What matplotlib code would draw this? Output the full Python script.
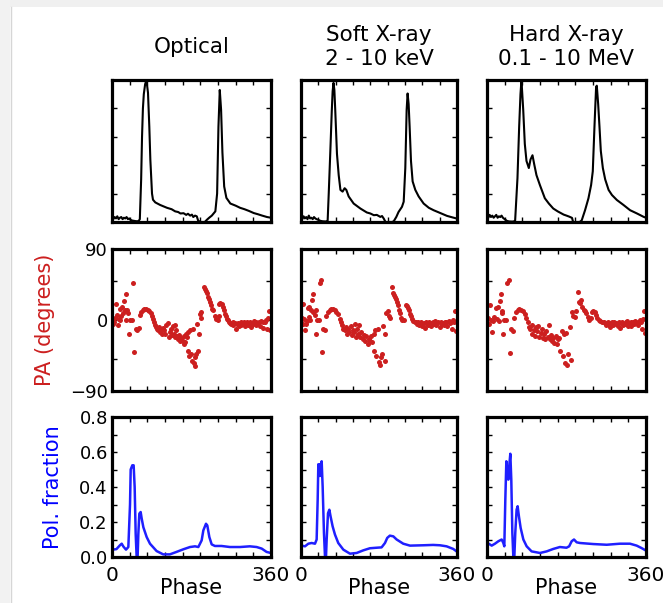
import matplotlib
matplotlib.use('Agg')
import matplotlib.pyplot as plt
from matplotlib.patches import Rectangle
from matplotlib.lines import Line2D

# ---------------- data ----------------
titles = ['Optical', 'Soft X-ray\n2 - 10 keV', 'Hard X-ray\n0.1 - 10 MeV']

# light curves (phase in degrees, normalised flux)
opt_lc_phase = [0, 3, 6, 9, 12, 15, 18, 21, 24, 27, 30, 33, 36, 39, 42, 46, 50, 54, 58, 61,
                63, 66, 68, 70, 72, 75, 78, 81.5, 84.5, 86.8, 90.6, 92.8, 98, 109, 124.5, 135,
                143, 150, 155, 162, 168, 172, 177, 181, 184, 188, 192, 195, 200, 205, 210, 215,
                220, 226, 234, 238, 241, 244, 247, 250, 254, 259, 268, 280, 290, 300, 310,
                321, 330, 340, 351, 360]
opt_lc_flux = [0.03, 0.02, 0.035, 0.025, 0.04, 0.02, 0.03, 0.035, 0.02, 0.03, 0.025, 0.035, 0.02,
               0.025, 0.015, 0.01, 0.008, 0.006, 0.005, 0.01,
               0.02, 0.3, 0.6, 0.8, 0.9, 0.97, 1.0, 0.91, 0.67, 0.44, 0.2, 0.157, 0.138, 0.12,
               0.1, 0.09, 0.075, 0.07, 0.06, 0.062, 0.05, 0.058, 0.045, 0.052, 0.035, 0.045,
               0.04, 0.01, 0.0, 0.0, 0.0, 0.016,
               0.03, 0.045, 0.075, 0.2, 0.67, 0.93, 0.79, 0.49, 0.25, 0.17, 0.13, 0.115,
               0.1, 0.09, 0.078, 0.063, 0.055, 0.045, 0.035, 0.03]

soft_lc_phase = [0, 3, 6, 9, 12, 15, 18, 21, 24, 27, 30, 33, 36, 40, 45, 50, 55, 60, 61.5,
                 64, 67.7, 71, 73, 75, 77, 79, 83, 87, 91, 96, 100.7, 104.6, 110, 121.5, 137,
                 145, 152, 160, 168, 175, 183, 187, 191, 195, 200, 205, 210, 214, 220, 225,
                 233, 237, 240.7, 243.8, 246, 248.4, 250.7, 253.8, 257.6, 263.8, 271.5, 283,
                 295, 306, 320, 337, 350, 360]
soft_lc_flux = [0.03, 0.02, 0.04, 0.025, 0.035, 0.02, 0.045, 0.025, 0.03, 0.02, 0.035, 0.025,
                0.02, 0.015, 0.008, 0.005, 0.004, 0.004, 0.01,
                0.2, 0.5, 0.78, 0.92, 0.98, 0.93, 0.79, 0.48, 0.33, 0.226, 0.214, 0.238, 0.226,
                0.18, 0.13, 0.095, 0.08, 0.067, 0.06, 0.048, 0.05, 0.036, 0.042, 0.024, 0.0,
                0.0, 0.0, 0.0, 0.005, 0.036, 0.07,
                0.107, 0.143, 0.38, 0.79, 0.905, 0.83, 0.67, 0.43, 0.286, 0.226, 0.18, 0.13,
                0.1, 0.083, 0.065, 0.043, 0.032, 0.024]

hard_lc_phase = [0, 3, 6, 9, 12, 15, 18, 21, 24, 27, 30, 33, 36, 40, 45, 50, 55, 60, 63.7,
                 69, 72.8, 75.8, 78, 82, 85.6, 89.4, 94.7, 98.5, 103, 107, 112, 119.8, 131,
                 140, 150, 160, 173.6, 180, 186, 192.5, 195, 200, 205, 210, 214.5, 222,
                 229.7, 235.7, 239.5, 243.3, 247, 248.6, 251.7, 254.7, 257.7, 262.3, 267.6,
                 275.3, 282.9, 294, 309, 324, 339.6, 354.8, 360]
hard_lc_flux = [0.04, 0.03, 0.05, 0.035, 0.045, 0.03, 0.04, 0.05, 0.03, 0.04, 0.035, 0.045,
                0.03, 0.02, 0.008, 0.004, 0.003, 0.003, 0.01,
                0.31, 0.67, 0.9, 1.0, 0.79, 0.55, 0.43, 0.38, 0.44, 0.47, 0.405, 0.33, 0.26,
                0.167, 0.13, 0.095, 0.075, 0.052, 0.045, 0.038, 0.029, 0.0, 0.0, 0.0, 0.0,
                0.012, 0.083,
                0.167, 0.26, 0.357, 0.67, 0.95, 0.96, 0.83, 0.67, 0.5, 0.38, 0.3,
                0.226, 0.19, 0.155, 0.12, 0.083, 0.06, 0.036, 0.03]

# polarisation angle scatter (phase in degrees, PA in degrees)
flat_phase = [265, 268, 270, 273, 275, 278, 280, 283, 286, 288, 291, 293, 296, 299, 301, 304,
              306, 309, 312, 314, 317, 320, 322, 325, 327, 330, 333, 335, 338, 341, 343, 346,
              349, 351, 354, 356, 358]

opt_pa_phase = [1.6, 3.1, 5.5, 7.8, 9.3, 10.9, 13.2, 15.6, 17.1, 18.7, 21, 23.4, 24.9, 26.5,
                28.8, 31.2, 32.7, 34.3, 36.6, 39, 40.5, 44.4, 48.3, 50.6, 54.5, 57.6, 60, 62.3,
                65.4, 69.3, 73.2, 77.1, 81, 84.1, 87.2, 90.4, 92.7, 95, 97.4, 100.5, 102.8,
                104.4, 106.7, 109, 110.6, 113, 115.3, 118.4, 120.7, 123, 126.2, 128.5, 130.9,
                134, 135.5, 137.9, 140.2, 141.8, 143.3, 145.7, 148, 150.3, 152.7, 154.2, 157.3,
                159.7, 162, 163.6, 165.1, 167.5, 169.8, 171.4, 172.9, 175.3, 176.8, 179.2,
                180.7, 183, 184.6, 187, 188.5, 190.9, 192.4, 194.8, 196.3, 198.6, 201, 202.5,
                208, 210.3, 213.4, 215.8, 218.1, 219.7, 222, 224.4, 227.5, 229.8, 232.9, 235.3,
                239.2, 241.5, 243, 245.4, 248.5, 250.8, 253.2, 255.5, 257.8, 260.2,
                262.5] + flat_phase
opt_pa = [0.4, -4.7, -2.6, 3.0, 20, 6, -6.8, 1.7, 14.5, -0.4, 4.7, 16.6, 9, 24.3,
          12.4, 32.8, -0.4, 12.4, 9, -17.5, 0.4, -0.4, 47.3, -41, -11, -13.2, -9.8, 6,
          10.2, 13.2, 14, 14, 13.2, 11.5, 9, 5.5, 1.7, -2.6, -6.8, -9, -11,
          -13.2, -9, -15.4, -12.4, -17.5, -9.8, -13.2, -18.3, -6.8, -3.8, -21.8, -15.4,
          -11, -19.6, -8.1, -17.5, -21.8, -6.8, -13.2, -20.9, -23.9, -19.6, -26, -22.6,
          -26, -30.3, -20.9, -28.1, -17.5, -21.8, -38.8, -15.4, -45.2, -13.2, -43.1,
          -51.6, -11, -55, -58.9, -47.3, -43.1, -5.5, -39.7, -17.5, 8.1, 10.2, 3,
          42.2, 38.8, 36.7, 33.7, 29.4, 26, 22.6, 18.8, 14.5, 12.4, 4.7, 1.7,
          -0.4, 4.7, 20.9, 21.8, 20, 16.6, 12.4, 8.1, 4.7, 1.7,
          -0.4] + [-3, -4, -5, -3, -6, -4, -11, -5, -4, -7, -3, -6, -5, -2, -8, -4, -3, -6, -2,
                   -9, -4, -5, -1, -6, -3, -4, -2, -7, -1, -3, -10, -2, 0, -12, 2, 11, -13]

soft_pa_phase = [2.3, 3.9, 5.5, 7.8, 10.1, 11.7, 14, 15.6, 17.9, 19.5, 21.8, 24.1, 25.7, 27.3,
                 28.8, 31.2, 33.5, 35, 37.4, 40.5, 44.4, 46.7, 49.1, 50.6, 54.5, 58.4, 62.3,
                 66.2, 70.1, 74, 77.9, 81.8, 85.7, 89.6, 91.9, 94.3, 97.4, 101.3, 103.6, 106.7,
                 109, 111.4, 114.5, 116.9, 119.2, 122.3, 124.6, 127, 128.5, 132.4, 134.8, 136.3,
                 138.7, 142.6, 145.7, 148, 150.3, 153.5, 155.8, 158.1, 161.3, 163.6, 167.5, 169,
                 171.4, 173.7, 176.8, 179.2, 181.5, 184.6, 187, 189.3, 193.2, 194.8, 197.1,
                 200.2, 203.3, 206.4, 210.3, 212.7, 214.2, 216.6, 218.9, 220.5, 223.6, 225.9,
                 228.2, 231.3, 233.7, 237.6, 241.5, 243.8, 246.9, 249.3, 251.6, 254.7, 257.1,
                 259.4, 262.5] + flat_phase
soft_pa = [3, -4.7, 20, 1.7, -13.2, -4.7, -1.3, 15.8, 3.8, 16.6, -0.4, 12.4, 25.2, 10.2,
           32.8, 6, 12.4, -17.5, -0.4, -0.4, 46.5, 50.8, -41, -11, -13.2, 4.7, 10.2,
           13.2, 14, 13.6, 12.4, 10.2, 8.1, 1.7, -2.6, -6.8, -11, -13.2, -9, -17.5,
           -11, -15.4, -8.1, -19.6, -13.2, -15.4, -4.7, -21.8, -11, -17.5, -6.8, -21.8,
           -15.4, -23.9, -19.6, -26, -20.9, -30.3, -23.9, -26, -20.9, -28.1, -17.5, -38.8,
           -13.2, -45.2, -11, -53.7, -56.7, -47.3, -43.1, -7.7, -51.6, -18.3, 9,
           11.5, 4.7, 3, 41.4, 33.7, 31.6, 29.4, 26, 23, 18.8, 12.4,
           9, 3, -0.4, 0.4, 18.8, 17.5, 15.8, 12.4, 8.1, 4.7, 1.7,
           -1.3, -2.6] + [-2, -5, -3, -6, -4, -2, -7, -4, -10, -3, -5, -6, -2, -4, -8, -3, -5,
                          -1, -6, -4, -3, -9, -2, -5, -4, -6, -2, -3, -7, -1, -4, -2, -11, 0,
                          -3, 11.5, -14]

hard_pa_phase = [2.3, 3.9, 7, 9.3, 11.6, 13.9, 16.3, 19.4, 21.7, 24, 27.1, 29.4, 31.7, 33.3,
                 34.8, 37.2, 39.5, 42.6, 46.4, 48.8, 51.9, 54.2, 58, 61.9, 65.8, 69.7, 73.5,
                 77.4, 81.3, 85.1, 89, 92.9, 95.2, 98.3, 101.4, 102.9, 106, 108.4, 110.7, 113.8,
                 116.1, 118.4, 121.5, 123.8, 126.2, 129.3, 131.6, 133.9, 137, 139.3, 141.6,
                 144.7, 147.1, 149.4, 152.5, 155.6, 158.7, 161, 163.3, 166.4, 168.7, 171.1,
                 174.2, 176.5, 178.8, 181.9, 184.2, 188.1, 191.2, 193.5, 195.8, 198.9, 202,
                 205.1, 207.4, 209.8, 212.9, 216, 219, 222.1, 225.2, 228.3, 231.4, 234.5,
                 237.6, 240.7, 243.8, 246.9, 250, 253.1, 256.2, 259.3] + flat_phase
hard_pa = [2.6, -5.1, 18.4, 0, -15, -1.7, 4.3, 15.4, 1.3, 17.1, -0.9, 24, 32.6, 12,
           8.6, -18, 0, 0, 46.3, 50.6, -41.6, -11.6, -13.7, 2.6, 9.9, 12.9, 14.1,
           13.3, 11.1, 7.7, 2.6, -3, -9.4, -11.6, -6, -18, -12.9, -20.1, -9.4, -13.7,
           -7.3, -21.4, -15.9, -11.6, -22.3, -18, -24.4, -13.7, -21.4, -6, -24.4,
           -18.9, -26.6, -22.3, -28.7, -20.1, -30.9, -24.4, -22.3, -39.4, -13.7, -45.9,
           -18, -54.4, -15.9, -56.6, -42.9, -9.4, -50.1, 9.9, 5.6, 3.4, 12,
           35.6, 22.7, 21.4, 24.9, 16.3, 12.9, 12, 8.6, 4.3, 0, 2.6,
           9.9, 12, 9.9, 6.9, 2.6, 0, -1.7, -3] + [-3, -4, -6, -2, -5, -9, -4, -3, -6, -2, -5,
                                                    -4, -7, -3, -10, -4, -2, -6, -5, -3, -1,
                                                    -7, -4, -3, -8, -2, -5, -1, -4, -2, -6, 0,
                                                    -3, -11, 1, 11, -16]

# polarisation fraction curves
opt_pf_phase = [1.5, 10, 18, 22, 25.7, 31.7, 37, 40.8, 42.3, 46, 49, 51.3, 53.6, 55.8, 58,
                59.6, 61.9, 64.9, 67.2, 71, 78.5, 86, 101, 116, 131, 146, 161.5, 176.6, 188,
                195.5, 203, 206.8, 212.8, 215.8, 220.4, 225.7, 233, 248, 267, 290, 312, 327.5,
                339, 350, 358]
opt_pf = [0.042, 0.045, 0.067, 0.076, 0.06, 0.042, 0.057, 0.3, 0.5, 0.524, 0.524, 0.4, 0.133,
          0.0, 0.0, 0.13, 0.248, 0.257, 0.22, 0.17, 0.114, 0.076, 0.034, 0.015, 0.015, 0.029,
          0.044, 0.057, 0.061, 0.057, 0.095, 0.152, 0.19, 0.18, 0.114, 0.072, 0.063, 0.063,
          0.057, 0.057, 0.061, 0.057, 0.048, 0.029, 0.024]

soft_pf_phase = [1.5, 9.2, 16.9, 24.6, 32.3, 36.1, 38.5, 40, 42.3, 43.8, 46.1, 47.7, 50, 53,
                 55.4, 57.7, 59.2, 62.3, 65.4, 68.4, 73, 78.4, 86, 97.7, 113, 128.4, 143.8, 159,
                 174.6, 186, 193.8, 199, 205, 213, 220.7, 236, 251.5, 282, 305, 320.7, 336,
                 351.4, 359]
soft_pf = [0.065, 0.061, 0.076, 0.08, 0.076, 0.1, 0.33, 0.53, 0.463, 0.53, 0.463, 0.547, 0.40,
           0.137, 0.0, 0.0, 0.099, 0.25, 0.27, 0.23, 0.175, 0.128, 0.08, 0.042, 0.019, 0.023,
           0.038, 0.05, 0.053, 0.055, 0.08, 0.109, 0.122, 0.118, 0.1, 0.076, 0.065, 0.067,
           0.069, 0.067, 0.061, 0.046, 0.032]

hard_pf_phase = [1.5, 10.6, 18, 25.7, 33.2, 37, 39.2, 41.5, 43.8, 46, 48.3, 50.6, 52.8, 55,
                 57.4, 59.6, 61.9, 64, 67, 69.4, 72.4, 76.2, 82.3, 89.8, 101, 120, 135, 150,
                 165, 180, 186, 191.7, 197, 203, 210.6, 240.7, 271, 301, 323.8, 338.9, 350, 359]
hard_pf = [0.08, 0.065, 0.076, 0.09, 0.1, 0.08, 0.061, 0.33, 0.547, 0.49, 0.442, 0.528, 0.59,
           0.442, 0.137, 0.0, 0.0, 0.137, 0.27, 0.29, 0.23, 0.166, 0.1, 0.061, 0.032, 0.023,
           0.032, 0.046, 0.057, 0.053, 0.061, 0.09, 0.1, 0.084, 0.08, 0.074, 0.07, 0.076,
           0.076, 0.065, 0.051, 0.038]

lc_phases = [opt_lc_phase, soft_lc_phase, hard_lc_phase]
lc_fluxes = [opt_lc_flux, soft_lc_flux, hard_lc_flux]
pa_phases = [opt_pa_phase, soft_pa_phase, hard_pa_phase]
pa_values = [opt_pa, soft_pa, hard_pa]
pf_phases = [opt_pf_phase, soft_pf_phase, hard_pf_phase]
pf_values = [opt_pf, soft_pf, hard_pf]

# ---------------- figure ----------------
W, H = 663, 603
fig = plt.figure(figsize=(W / 100, H / 100), dpi=100)
fig.patch.set_facecolor('white')

# screenshot frame remnants
fig.patches.append(Rectangle((0, 1 - 7 / H), 1, 7 / H, transform=fig.transFigure,
                             facecolor='#f0f0f0', edgecolor='none', zorder=-5))
fig.patches.append(Rectangle((0, 0), 10 / W, 1, transform=fig.transFigure,
                             facecolor='#f2f2f2', edgecolor='none', zorder=-5))
fig.lines.append(Line2D([10.5 / W, 10.5 / W], [0, 1 - 7 / H], transform=fig.transFigure,
                        color='#d6d6d6', lw=1))

lefts = [112, 301, 487]
widths = [159, 156, 159]
rows = [(80, 222), (249, 391), (417, 557)]

RED = '#cc1f1f'
BLUE = '#1f1fff'


def make_ax(l, w, t, b):
    ax = fig.add_axes([l / W, 1 - b / H, w / W, (b - t) / H])
    for s in ax.spines.values():
        s.set_linewidth(2.3)
    ax.tick_params(direction='in', top=True, right=True, length=3.5, width=1,
                   labelsize=13, pad=3)
    ax.set_xlim(0, 360)
    ax.set_xticks(range(0, 361, 40))
    return ax


for c in range(3):
    l, w = lefts[c], widths[c]
    # top: light curves
    ax = make_ax(l, w, *rows[0])
    ax.plot(lc_phases[c], lc_fluxes[c], color='k', lw=1.5)
    ax.set_ylim(0, 1)
    ax.set_yticks([0, 0.2, 0.4, 0.6, 0.8, 1.0])
    ax.set_xticklabels([])
    ax.set_yticklabels([])

    # middle: PA
    ax = make_ax(l, w, *rows[1])
    ax.plot(pa_phases[c], pa_values[c], 'o', color=RED, ms=3.6, mec='none')
    ax.set_ylim(-90, 90)
    ax.set_yticks([-90, -50, 0, 50, 90])
    ax.set_xticklabels([])
    if c == 0:
        ax.set_yticklabels(['\u221290', '', '0', '', '90'])
        ax.set_ylabel('PA (degrees)', color=RED, fontsize=15, labelpad=11)
    else:
        ax.set_yticklabels([])

    # bottom: polarisation fraction
    ax = make_ax(l, w, *rows[2])
    ax.plot(pf_phases[c], pf_values[c], color=BLUE, lw=1.8)
    ax.set_ylim(0, 0.8)
    ax.set_yticks([0.0, 0.1, 0.2, 0.3, 0.4, 0.5, 0.6, 0.7, 0.8])
    ax.set_xticklabels(['0', '', '', '', '', '', '', '', '', '360'])
    ax.tick_params(axis='x', labelsize=14.5, pad=6.5)
    ax.set_xlabel('Phase', fontsize=15, labelpad=-5)
    if c == 0:
        ax.set_yticklabels(['0.0', '', '0.2', '', '0.4', '', '0.6', '', '0.8'])
        ax.set_ylabel('Pol. fraction', color='#0000ff', fontsize=15, labelpad=12)
    else:
        ax.set_yticklabels([])

    # column titles
    fig.text((l + w / 2) / W, 1 - 47 / H, titles[c], ha='center', va='center',
             fontsize=15.5, multialignment='center', linespacing=1.3)

fig.savefig('out.png', dpi=100)
